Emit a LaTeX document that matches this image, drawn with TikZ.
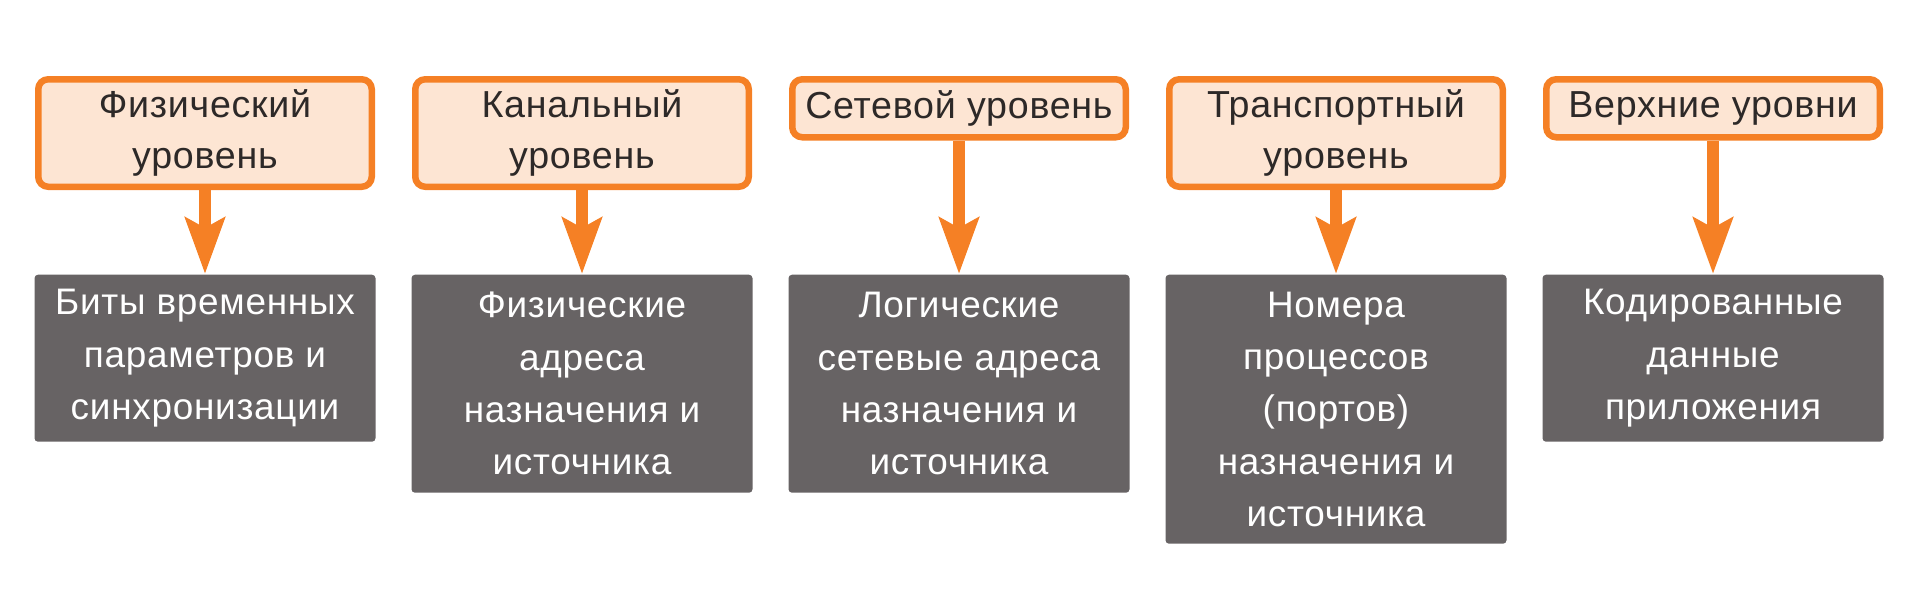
\documentclass[tikz,border=0pt]{standalone}
\usepackage{fontspec}
\setmainfont[LetterSpace=2]{Liberation Sans}
\usetikzlibrary{positioning, arrows.meta}
\definecolor{lvlorange}{RGB}{245,128,37}
\definecolor{lvlfill}{RGB}{253,229,211}
\definecolor{datagray}{RGB}{103,99,100}
\definecolor{lvltext}{RGB}{45,41,40}
\tikzstyle{arrow} = [line width=0.12cm, draw=lvlorange, -{Stealth[length=0.56cm, width=0.39cm, inset=0.1cm, fill=lvlorange]}]
\tikzstyle{level} = [rectangle, rounded corners=0.1cm, draw=lvlorange, line width=0.065cm, fill=lvlfill, text=lvltext, minimum width=3.335cm, minimum height=1.075cm, inner xsep=0pt, inner ysep=0.04cm, align=center, font=\fontsize{10.7pt}{14.4pt}\selectfont]
\tikzstyle{datum} = [rectangle, rounded corners=1pt, fill=datagray, text=white, minimum width=3.41cm, inner xsep=0pt, inner ysep=0.0625cm, align=center, font=\fontsize{10.5pt}{14.9pt}\selectfont]

\begin{document}
\begin{tikzpicture}[node distance=0.37cm]
    \useasboundingbox (0,0) rectangle (19.2,-5.99);

    \node [level, anchor=north] (phys) at (2.05,-0.76) {Физический\\уровень};
    \node [level, right=of phys.north east, anchor=north west] (link) {Канальный\\уровень};
    \node [level, minimum height=0.58cm, right=of link.north east, anchor=north west] (net) {Сетевой уровень};
    \node [level, right=of net.north east, anchor=north west] (trans) {Транспортный\\уровень};
    \node [level, minimum height=0.58cm, right=of trans.north east, anchor=north west] (upper) {Верхние уровни};

    \node [datum, minimum height=1.67cm, anchor=north] (physdata) at (phys.north |- 0,-2.74) {Биты временных\\параметров и\\синхронизации};
    \node [datum, minimum height=2.18cm, anchor=north] (linkdata) at (link.north |- 0,-2.74) {Физические\\адреса\\назначения и\\источника};
    \node [datum, minimum height=2.18cm, anchor=north] (netdata) at (net.north |- 0,-2.74) {Логические\\сетевые адреса\\назначения и\\источника};
    \node [datum, minimum height=2.69cm, anchor=north] (transdata) at (trans.north |- 0,-2.74) {Номера\\процессов\\(портов)\\назначения и\\источника};
    \node [datum, minimum height=1.67cm, anchor=north] (upperdata) at (upper.north |- 0,-2.74) {Кодированные\\данные\\приложения};

    \draw[arrow] (phys.south) -- (physdata.north);
    \draw[arrow] (link.south) -- (linkdata.north);
    \draw[arrow] (net.south) -- (netdata.north);
    \draw[arrow] (trans.south) -- (transdata.north);
    \draw[arrow] (upper.south) -- (upperdata.north);
\end{tikzpicture}
\end{document}
